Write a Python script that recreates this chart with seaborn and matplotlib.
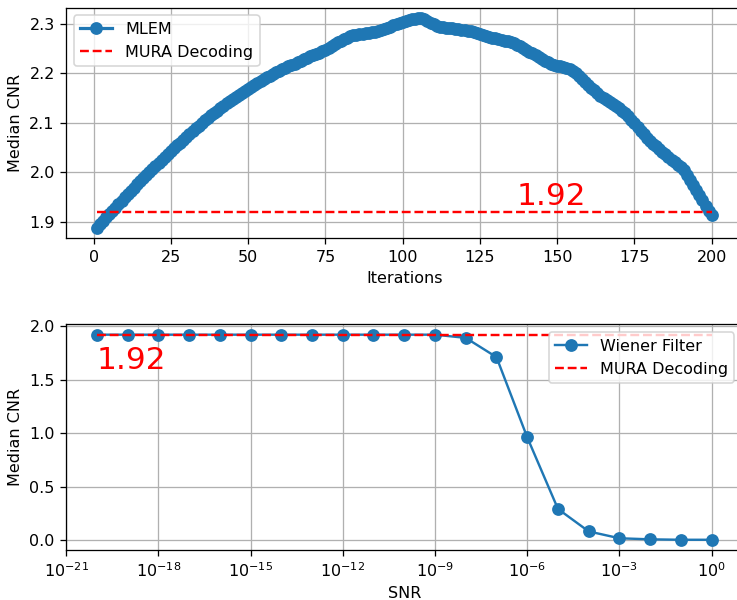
import numpy as np
import pandas as pd
import seaborn as sns
import matplotlib.pyplot as plt

# MLEM median CNR per iteration
iterations = list(range(1, 201))
mlem_cnr = [
    1.888, 1.895, 1.902, 1.909, 1.915, 1.922, 1.929, 1.936, 1.943, 1.950,
    1.956, 1.963, 1.969, 1.976, 1.982, 1.989, 1.995, 2.001, 2.007, 2.013,
    2.019, 2.025, 2.031, 2.037, 2.043, 2.049, 2.055, 2.060, 2.066, 2.071,
    2.077, 2.083, 2.089, 2.094, 2.100, 2.105, 2.110, 2.115, 2.120, 2.125,
    2.130, 2.135, 2.140, 2.145, 2.149, 2.153, 2.157, 2.161, 2.165, 2.169,
    2.173, 2.177, 2.181, 2.185, 2.188, 2.192, 2.195, 2.198, 2.202, 2.205,
    2.208, 2.211, 2.214, 2.217, 2.220, 2.223, 2.226, 2.229, 2.232, 2.235,
    2.237, 2.240, 2.242, 2.245, 2.248, 2.252, 2.256, 2.259, 2.263, 2.266,
    2.269, 2.272, 2.275, 2.277, 2.278, 2.279, 2.280, 2.281, 2.282, 2.283,
    2.284, 2.285, 2.287, 2.289, 2.291, 2.294, 2.297, 2.300, 2.302, 2.304,
    2.306, 2.308, 2.309, 2.310, 2.311, 2.312, 2.310, 2.306, 2.302, 2.299,
    2.296, 2.294, 2.293, 2.292, 2.292, 2.291, 2.290, 2.289, 2.288, 2.287,
    2.286, 2.285, 2.283, 2.281, 2.279, 2.277, 2.276, 2.274, 2.272, 2.271,
    2.269, 2.268, 2.266, 2.265, 2.263, 2.261, 2.258, 2.255, 2.251, 2.248,
    2.244, 2.241, 2.237, 2.233, 2.230, 2.226, 2.223, 2.220, 2.218, 2.216,
    2.214, 2.212, 2.210, 2.208, 2.205, 2.200, 2.195, 2.189, 2.183, 2.177,
    2.171, 2.166, 2.160, 2.155, 2.150, 2.146, 2.142, 2.138, 2.134, 2.130,
    2.125, 2.120, 2.113, 2.106, 2.099, 2.092, 2.084, 2.077, 2.070, 2.063,
    2.058, 2.053, 2.048, 2.042, 2.037, 2.032, 2.026, 2.021, 2.015, 2.010,
    2.004, 1.994, 1.984, 1.974, 1.964, 1.954, 1.944, 1.933, 1.923, 1.913,
]

# Wiener filter median CNR vs SNR
snr = [1e-20, 1e-19, 1e-18, 1e-17, 1e-16, 1e-15, 1e-14, 1e-13, 1e-12, 1e-11,
       1e-10, 1e-9, 1e-8, 1e-7, 1e-6, 1e-5, 1e-4, 1e-3, 1e-2, 1e-1, 1e0]
wiener_cnr = [1.92, 1.92, 1.92, 1.92, 1.92, 1.92, 1.92, 1.92, 1.92, 1.92,
              1.92, 1.92, 1.89, 1.71, 0.96, 0.29, 0.08, 0.016, 0.006, 0.002, 0.002]

mura_cnr = 1.92

blue = "#1f77b4"

fig = plt.figure(figsize=(737 / 115, 600 / 115), dpi=115)
ax1 = fig.add_axes([0.0896, 0.6028, 0.9178, 0.3847])
ax2 = fig.add_axes([0.0896, 0.0833, 0.9178, 0.3760])

# top: MLEM vs iterations
sns.lineplot(x=iterations, y=mlem_cnr, ax=ax1, color=blue, marker="o",
             markersize=7, linewidth=2, markeredgecolor=blue,
             markeredgewidth=1, label="MLEM")
sns.lineplot(x=iterations, y=[mura_cnr] * len(iterations), ax=ax1, color="red",
             linestyle="--", label="MURA Decoding")
ax1.text(137, 1.935, "1.92", color="red", fontsize=19.5)
ax1.set_xlabel("Iterations")
ax1.set_ylabel("Median CNR")
ax1.set_yticks([1.9, 2.0, 2.1, 2.2, 2.3])
ax1.grid(True)
ax1.legend(loc="upper left")

# bottom: Wiener filter vs SNR
sns.lineplot(x=snr, y=wiener_cnr, ax=ax2, color=blue, marker="o",
             markersize=7, markeredgecolor=blue, markeredgewidth=1,
             label="Wiener Filter")
sns.lineplot(x=snr, y=[mura_cnr] * len(snr), ax=ax2, color="red",
             linestyle="--", label="MURA Decoding")
ax2.set_xscale("log")
ax2.set_xlim(1e-21, 1e1)
ax2.set_xticks([1e-21, 1e-18, 1e-15, 1e-12, 1e-9, 1e-6, 1e-3, 1e0])
ax2.text(1e-20, 1.6, "1.92", color="red", fontsize=19.5)
ax2.set_xlabel("SNR")
ax2.set_ylabel("Median CNR")
ax2.grid(True)
ax2.legend(loc="upper right")

fig.savefig("out.png", dpi=115)
